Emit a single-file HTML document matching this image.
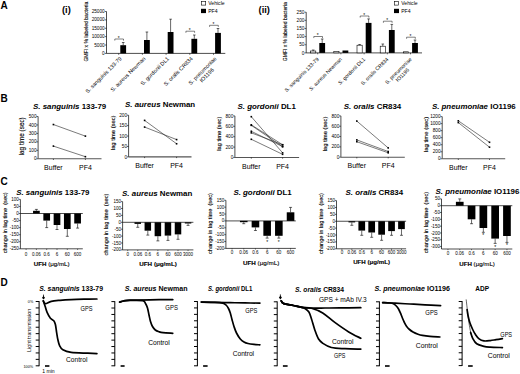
<!DOCTYPE html>
<html><head><meta charset="utf-8"><style>
html,body{margin:0;padding:0;background:#fff;}
svg{display:block;}
text{font-family:"Liberation Sans", sans-serif;}
.yl{stroke:#000;stroke-width:0.12px;}
</style></head><body>
<svg width="520" height="374" viewBox="0 0 520 374" font-family="Liberation Sans, sans-serif">
<rect width="520" height="374" fill="#fff"/>
<text x="0.50" y="9.00" font-size="10" text-anchor="start" font-weight="bold" font-style="normal" fill="#000">A</text>
<text x="0.50" y="101.50" font-size="10" text-anchor="start" font-weight="bold" font-style="normal" fill="#000">B</text>
<text x="0.50" y="185.20" font-size="10" text-anchor="start" font-weight="bold" font-style="normal" fill="#000">C</text>
<text x="0.50" y="285.60" font-size="10" text-anchor="start" font-weight="bold" font-style="normal" fill="#000">D</text>
<text x="62.00" y="12.70" font-size="9.3" text-anchor="start" font-weight="bold" font-style="normal" fill="#000">(i)</text>
<line x1="106.50" y1="11.50" x2="106.50" y2="53.40" stroke="#000" stroke-width="0.7"/>
<line x1="104.90" y1="53.40" x2="106.50" y2="53.40" stroke="#000" stroke-width="0.6"/>
<text x="104.70" y="55.00" font-size="4.7" text-anchor="end" font-weight="normal" font-style="normal" fill="#000">0</text>
<line x1="104.90" y1="45.02" x2="106.50" y2="45.02" stroke="#000" stroke-width="0.6"/>
<text x="104.70" y="46.62" font-size="4.7" text-anchor="end" font-weight="normal" font-style="normal" fill="#000">5000</text>
<line x1="104.90" y1="36.64" x2="106.50" y2="36.64" stroke="#000" stroke-width="0.6"/>
<text x="104.70" y="38.24" font-size="4.7" text-anchor="end" font-weight="normal" font-style="normal" fill="#000">10000</text>
<line x1="104.90" y1="28.26" x2="106.50" y2="28.26" stroke="#000" stroke-width="0.6"/>
<text x="104.70" y="29.86" font-size="4.7" text-anchor="end" font-weight="normal" font-style="normal" fill="#000">15000</text>
<line x1="104.90" y1="19.88" x2="106.50" y2="19.88" stroke="#000" stroke-width="0.6"/>
<text x="104.70" y="21.48" font-size="4.7" text-anchor="end" font-weight="normal" font-style="normal" fill="#000">20000</text>
<line x1="104.90" y1="11.50" x2="106.50" y2="11.50" stroke="#000" stroke-width="0.6"/>
<text x="104.70" y="13.10" font-size="4.7" text-anchor="end" font-weight="normal" font-style="normal" fill="#000">25000</text>
<text x="87.60" y="31.60" font-size="5.1" text-anchor="middle" transform="rotate(-90 87.60 31.60)" textLength="60.00" lengthAdjust="spacingAndGlyphs" class="yl">GMFI x % labeled bacteria</text>
<line x1="106.50" y1="53.40" x2="225.30" y2="53.40" stroke="#000" stroke-width="0.7"/>
<line x1="118.70" y1="53.40" x2="118.70" y2="54.80" stroke="#000" stroke-width="0.6"/>
<line x1="123.20" y1="42.50" x2="123.20" y2="45.20" stroke="#000" stroke-width="0.6"/>
<line x1="121.90" y1="42.50" x2="124.50" y2="42.50" stroke="#000" stroke-width="0.6"/>
<rect x="120.30" y="45.20" width="5.80" height="8.20" fill="#000"/>
<line x1="142.40" y1="53.40" x2="142.40" y2="54.80" stroke="#000" stroke-width="0.6"/>
<line x1="146.90" y1="32.00" x2="146.90" y2="40.00" stroke="#000" stroke-width="0.6"/>
<line x1="145.60" y1="32.00" x2="148.20" y2="32.00" stroke="#000" stroke-width="0.6"/>
<rect x="144.00" y="40.00" width="5.80" height="13.40" fill="#000"/>
<line x1="166.10" y1="53.40" x2="166.10" y2="54.80" stroke="#000" stroke-width="0.6"/>
<line x1="170.60" y1="19.20" x2="170.60" y2="32.00" stroke="#000" stroke-width="0.6"/>
<line x1="169.30" y1="19.20" x2="171.90" y2="19.20" stroke="#000" stroke-width="0.6"/>
<rect x="167.70" y="32.00" width="5.80" height="21.40" fill="#000"/>
<line x1="189.80" y1="53.40" x2="189.80" y2="54.80" stroke="#000" stroke-width="0.6"/>
<line x1="194.30" y1="35.00" x2="194.30" y2="38.80" stroke="#000" stroke-width="0.6"/>
<line x1="193.00" y1="35.00" x2="195.60" y2="35.00" stroke="#000" stroke-width="0.6"/>
<rect x="191.40" y="38.80" width="5.80" height="14.60" fill="#000"/>
<line x1="213.50" y1="53.40" x2="213.50" y2="54.80" stroke="#000" stroke-width="0.6"/>
<line x1="218.00" y1="28.50" x2="218.00" y2="32.90" stroke="#000" stroke-width="0.6"/>
<line x1="216.70" y1="28.50" x2="219.30" y2="28.50" stroke="#000" stroke-width="0.6"/>
<rect x="215.10" y="32.90" width="5.80" height="20.50" fill="#000"/>
<path d="M114.80 40.20 L114.80 39.00 L123.50 39.00 L123.50 40.20" stroke="#000" stroke-width="0.5" fill="none" stroke-linejoin="round" stroke-linecap="round"/>
<text x="118.70" y="39.90" font-size="4.8" text-anchor="middle" font-weight="normal" font-style="normal" fill="#000">*</text>
<path d="M185.90 32.40 L185.90 31.20 L194.60 31.20 L194.60 32.40" stroke="#000" stroke-width="0.5" fill="none" stroke-linejoin="round" stroke-linecap="round"/>
<text x="189.80" y="32.10" font-size="4.8" text-anchor="middle" font-weight="normal" font-style="normal" fill="#000">*</text>
<path d="M209.60 26.50 L209.60 25.30 L218.30 25.30 L218.30 26.50" stroke="#000" stroke-width="0.5" fill="none" stroke-linejoin="round" stroke-linecap="round"/>
<text x="213.50" y="26.20" font-size="4.8" text-anchor="middle" font-weight="normal" font-style="normal" fill="#000">*</text>
<rect x="201.30" y="1.50" width="4.40" height="3.60" fill="#fff" stroke="#000" stroke-width="0.6"/>
<rect x="201.00" y="8.80" width="5.00" height="4.30" fill="#000"/>
<text x="208.20" y="5.10" font-size="5.1" text-anchor="start" font-weight="normal" font-style="normal" fill="#000">Vehicle</text>
<text x="208.20" y="12.90" font-size="5.1" text-anchor="start" font-weight="normal" font-style="normal" fill="#000">PF4</text>
<text x="122.10" y="59.00" font-size="5.5" text-anchor="end" font-weight="normal" font-style="normal" fill="#000" transform="rotate(-45 122.10 59.00)">S. sanguinis 133-79</text>
<text x="145.80" y="59.00" font-size="5.5" text-anchor="end" font-weight="normal" font-style="normal" fill="#000" transform="rotate(-45 145.80 59.00)">S. aureus Newman</text>
<text x="169.50" y="59.00" font-size="5.5" text-anchor="end" font-weight="normal" font-style="normal" fill="#000" transform="rotate(-45 169.50 59.00)">S. gordonii DL1</text>
<text x="193.20" y="59.00" font-size="5.5" text-anchor="end" font-weight="normal" font-style="normal" fill="#000" transform="rotate(-45 193.20 59.00)">S. oralis CR834</text>
<g transform="translate(216.90 59.00) rotate(-45)"><text x="-18.51" y="0" font-size="5.5" text-anchor="middle">S. pneumoniae</text><text x="-18.51" y="6.16" font-size="5.5" text-anchor="middle">IO1196</text></g>
<text x="258.60" y="12.70" font-size="9.3" text-anchor="start" font-weight="bold" font-style="normal" fill="#000">(ii)</text>
<line x1="306.20" y1="12.20" x2="306.20" y2="52.90" stroke="#000" stroke-width="0.7"/>
<line x1="304.60" y1="52.90" x2="306.20" y2="52.90" stroke="#000" stroke-width="0.6"/>
<text x="304.40" y="54.50" font-size="4.7" text-anchor="end" font-weight="normal" font-style="normal" fill="#000">0</text>
<line x1="304.60" y1="44.76" x2="306.20" y2="44.76" stroke="#000" stroke-width="0.6"/>
<text x="304.40" y="46.36" font-size="4.7" text-anchor="end" font-weight="normal" font-style="normal" fill="#000">50</text>
<line x1="304.60" y1="36.62" x2="306.20" y2="36.62" stroke="#000" stroke-width="0.6"/>
<text x="304.40" y="38.22" font-size="4.7" text-anchor="end" font-weight="normal" font-style="normal" fill="#000">100</text>
<line x1="304.60" y1="28.48" x2="306.20" y2="28.48" stroke="#000" stroke-width="0.6"/>
<text x="304.40" y="30.08" font-size="4.7" text-anchor="end" font-weight="normal" font-style="normal" fill="#000">150</text>
<line x1="304.60" y1="20.34" x2="306.20" y2="20.34" stroke="#000" stroke-width="0.6"/>
<text x="304.40" y="21.94" font-size="4.7" text-anchor="end" font-weight="normal" font-style="normal" fill="#000">200</text>
<line x1="304.60" y1="12.20" x2="306.20" y2="12.20" stroke="#000" stroke-width="0.6"/>
<text x="304.40" y="13.80" font-size="4.7" text-anchor="end" font-weight="normal" font-style="normal" fill="#000">250</text>
<text x="287.40" y="31.70" font-size="5.1" text-anchor="middle" transform="rotate(-90 287.40 31.70)" textLength="59.00" lengthAdjust="spacingAndGlyphs" class="yl">GMFI x % labeled bacteria</text>
<line x1="306.20" y1="52.90" x2="422.00" y2="52.90" stroke="#000" stroke-width="0.7"/>
<line x1="317.70" y1="52.90" x2="317.70" y2="54.30" stroke="#000" stroke-width="0.6"/>
<line x1="313.20" y1="50.00" x2="313.20" y2="51.00" stroke="#000" stroke-width="0.6"/>
<line x1="311.90" y1="50.00" x2="314.50" y2="50.00" stroke="#000" stroke-width="0.6"/>
<rect x="310.60" y="51.00" width="5.20" height="1.90" fill="#fff" stroke="#000" stroke-width="0.6"/>
<line x1="322.20" y1="39.00" x2="322.20" y2="43.00" stroke="#000" stroke-width="0.6"/>
<line x1="320.90" y1="39.00" x2="323.50" y2="39.00" stroke="#000" stroke-width="0.6"/>
<rect x="319.30" y="43.00" width="5.80" height="9.90" fill="#000"/>
<line x1="340.90" y1="52.90" x2="340.90" y2="54.30" stroke="#000" stroke-width="0.6"/>
<rect x="333.80" y="51.30" width="5.20" height="1.60" fill="#fff" stroke="#000" stroke-width="0.6"/>
<rect x="342.50" y="50.50" width="5.80" height="2.40" fill="#000"/>
<line x1="364.10" y1="52.90" x2="364.10" y2="54.30" stroke="#000" stroke-width="0.6"/>
<line x1="359.60" y1="44.50" x2="359.60" y2="45.20" stroke="#000" stroke-width="0.6"/>
<line x1="358.30" y1="44.50" x2="360.90" y2="44.50" stroke="#000" stroke-width="0.6"/>
<rect x="357.00" y="45.20" width="5.20" height="7.70" fill="#fff" stroke="#000" stroke-width="0.6"/>
<line x1="368.60" y1="18.90" x2="368.60" y2="22.90" stroke="#000" stroke-width="0.6"/>
<line x1="367.30" y1="18.90" x2="369.90" y2="18.90" stroke="#000" stroke-width="0.6"/>
<rect x="365.70" y="22.90" width="5.80" height="30.00" fill="#000"/>
<line x1="387.30" y1="52.90" x2="387.30" y2="54.30" stroke="#000" stroke-width="0.6"/>
<line x1="382.80" y1="44.00" x2="382.80" y2="46.20" stroke="#000" stroke-width="0.6"/>
<line x1="381.50" y1="44.00" x2="384.10" y2="44.00" stroke="#000" stroke-width="0.6"/>
<rect x="380.20" y="46.20" width="5.20" height="6.70" fill="#fff" stroke="#000" stroke-width="0.6"/>
<line x1="391.80" y1="24.40" x2="391.80" y2="30.00" stroke="#000" stroke-width="0.6"/>
<line x1="390.50" y1="24.40" x2="393.10" y2="24.40" stroke="#000" stroke-width="0.6"/>
<rect x="388.90" y="30.00" width="5.80" height="22.90" fill="#000"/>
<line x1="410.50" y1="52.90" x2="410.50" y2="54.30" stroke="#000" stroke-width="0.6"/>
<rect x="403.40" y="51.80" width="5.20" height="1.10" fill="#fff" stroke="#000" stroke-width="0.6"/>
<line x1="415.00" y1="40.00" x2="415.00" y2="43.00" stroke="#000" stroke-width="0.6"/>
<line x1="413.70" y1="40.00" x2="416.30" y2="40.00" stroke="#000" stroke-width="0.6"/>
<rect x="412.10" y="43.00" width="5.80" height="9.90" fill="#000"/>
<path d="M313.80 37.70 L313.80 36.50 L322.50 36.50 L322.50 37.70" stroke="#000" stroke-width="0.5" fill="none" stroke-linejoin="round" stroke-linecap="round"/>
<text x="317.70" y="37.40" font-size="4.8" text-anchor="middle" font-weight="normal" font-style="normal" fill="#000">*</text>
<path d="M360.20 17.20 L360.20 16.00 L368.90 16.00 L368.90 17.20" stroke="#000" stroke-width="0.5" fill="none" stroke-linejoin="round" stroke-linecap="round"/>
<text x="364.10" y="16.90" font-size="4.8" text-anchor="middle" font-weight="normal" font-style="normal" fill="#000">*</text>
<path d="M383.40 22.40 L383.40 21.20 L392.10 21.20 L392.10 22.40" stroke="#000" stroke-width="0.5" fill="none" stroke-linejoin="round" stroke-linecap="round"/>
<text x="387.30" y="22.10" font-size="4.8" text-anchor="middle" font-weight="normal" font-style="normal" fill="#000">*</text>
<path d="M406.60 38.40 L406.60 37.20 L415.30 37.20 L415.30 38.40" stroke="#000" stroke-width="0.5" fill="none" stroke-linejoin="round" stroke-linecap="round"/>
<text x="410.50" y="38.10" font-size="4.8" text-anchor="middle" font-weight="normal" font-style="normal" fill="#000">*</text>
<rect x="394.30" y="1.50" width="4.40" height="3.60" fill="#fff" stroke="#000" stroke-width="0.6"/>
<rect x="394.00" y="8.80" width="5.00" height="4.30" fill="#000"/>
<text x="401.20" y="5.10" font-size="5.1" text-anchor="start" font-weight="normal" font-style="normal" fill="#000">Vehicle</text>
<text x="401.20" y="12.90" font-size="5.1" text-anchor="start" font-weight="normal" font-style="normal" fill="#000">PF4</text>
<text x="319.20" y="59.70" font-size="5.2" text-anchor="end" font-weight="normal" font-style="normal" fill="#000" transform="rotate(-45 319.20 59.70)">S. sanguinis 133-79</text>
<text x="342.40" y="59.70" font-size="5.2" text-anchor="end" font-weight="normal" font-style="normal" fill="#000" transform="rotate(-45 342.40 59.70)">S. aureus Newman</text>
<text x="365.60" y="59.70" font-size="5.2" text-anchor="end" font-weight="normal" font-style="normal" fill="#000" transform="rotate(-45 365.60 59.70)">S. gordonii DL1</text>
<text x="388.80" y="59.70" font-size="5.2" text-anchor="end" font-weight="normal" font-style="normal" fill="#000" transform="rotate(-45 388.80 59.70)">S. oralis CR834</text>
<g transform="translate(412.00 59.70) rotate(-45)"><text x="-17.50" y="0" font-size="5.2" text-anchor="middle">S. pneumoniae</text><text x="-17.50" y="5.82" font-size="5.2" text-anchor="middle">IO1196</text></g>
<text x="33.00" y="109.20" font-size="7.9" font-weight="bold"><tspan font-style="italic">S. sanguinis</tspan> 133-79</text>
<line x1="38.10" y1="116.50" x2="38.10" y2="158.80" stroke="#000" stroke-width="0.7"/>
<line x1="36.50" y1="158.80" x2="38.10" y2="158.80" stroke="#000" stroke-width="0.6"/>
<text x="36.50" y="160.40" font-size="4.7" text-anchor="end" font-weight="normal" font-style="normal" fill="#000">0</text>
<line x1="36.50" y1="150.34" x2="38.10" y2="150.34" stroke="#000" stroke-width="0.6"/>
<text x="36.50" y="151.94" font-size="4.7" text-anchor="end" font-weight="normal" font-style="normal" fill="#000">100</text>
<line x1="36.50" y1="141.88" x2="38.10" y2="141.88" stroke="#000" stroke-width="0.6"/>
<text x="36.50" y="143.48" font-size="4.7" text-anchor="end" font-weight="normal" font-style="normal" fill="#000">200</text>
<line x1="36.50" y1="133.42" x2="38.10" y2="133.42" stroke="#000" stroke-width="0.6"/>
<text x="36.50" y="135.02" font-size="4.7" text-anchor="end" font-weight="normal" font-style="normal" fill="#000">300</text>
<line x1="36.50" y1="124.96" x2="38.10" y2="124.96" stroke="#000" stroke-width="0.6"/>
<text x="36.50" y="126.56" font-size="4.7" text-anchor="end" font-weight="normal" font-style="normal" fill="#000">400</text>
<line x1="36.50" y1="116.50" x2="38.10" y2="116.50" stroke="#000" stroke-width="0.6"/>
<text x="36.50" y="118.10" font-size="4.7" text-anchor="end" font-weight="normal" font-style="normal" fill="#000">500</text>
<line x1="38.10" y1="158.80" x2="101.50" y2="158.80" stroke="#555" stroke-width="1.1"/>
<line x1="53.40" y1="158.80" x2="53.40" y2="160.00" stroke="#000" stroke-width="0.6"/>
<line x1="85.40" y1="158.80" x2="85.40" y2="160.00" stroke="#000" stroke-width="0.6"/>
<text x="53.40" y="169.70" font-size="7.0" text-anchor="middle" font-weight="normal" font-style="normal" fill="#000">Buffer</text>
<text x="85.40" y="169.70" font-size="7.0" text-anchor="middle" font-weight="normal" font-style="normal" fill="#000">PF4</text>
<text x="23.71" y="136.30" font-size="6.33" text-anchor="middle" transform="rotate(-90 23.71 136.30)" textLength="38.00" lengthAdjust="spacingAndGlyphs" class="yl">lag time (sec)</text>
<line x1="53.40" y1="124.54" x2="85.40" y2="136.13" stroke="#222" stroke-width="0.6"/>
<rect x="52.60" y="123.74" width="1.60" height="1.60" fill="#000"/>
<rect x="84.60" y="135.33" width="1.60" height="1.60" fill="#000"/>
<line x1="53.40" y1="146.11" x2="85.40" y2="156.69" stroke="#222" stroke-width="0.6"/>
<rect x="52.60" y="145.31" width="1.60" height="1.60" fill="#000"/>
<rect x="84.60" y="155.88" width="1.60" height="1.60" fill="#000"/>
<text x="125.00" y="107.20" font-size="7.9" font-weight="bold"><tspan font-style="italic">S. aureus</tspan> Newman</text>
<line x1="128.60" y1="115.20" x2="128.60" y2="156.90" stroke="#000" stroke-width="0.7"/>
<line x1="127.00" y1="156.90" x2="128.60" y2="156.90" stroke="#000" stroke-width="0.6"/>
<text x="127.00" y="158.50" font-size="4.7" text-anchor="end" font-weight="normal" font-style="normal" fill="#000">0</text>
<line x1="127.00" y1="146.47" x2="128.60" y2="146.47" stroke="#000" stroke-width="0.6"/>
<text x="127.00" y="148.07" font-size="4.7" text-anchor="end" font-weight="normal" font-style="normal" fill="#000">50</text>
<line x1="127.00" y1="136.05" x2="128.60" y2="136.05" stroke="#000" stroke-width="0.6"/>
<text x="127.00" y="137.65" font-size="4.7" text-anchor="end" font-weight="normal" font-style="normal" fill="#000">100</text>
<line x1="127.00" y1="125.62" x2="128.60" y2="125.62" stroke="#000" stroke-width="0.6"/>
<text x="127.00" y="127.22" font-size="4.7" text-anchor="end" font-weight="normal" font-style="normal" fill="#000">150</text>
<line x1="127.00" y1="115.20" x2="128.60" y2="115.20" stroke="#000" stroke-width="0.6"/>
<text x="127.00" y="116.80" font-size="4.7" text-anchor="end" font-weight="normal" font-style="normal" fill="#000">200</text>
<line x1="128.60" y1="156.90" x2="191.50" y2="156.90" stroke="#555" stroke-width="1.1"/>
<line x1="144.60" y1="156.90" x2="144.60" y2="158.10" stroke="#000" stroke-width="0.6"/>
<line x1="176.60" y1="156.90" x2="176.60" y2="158.10" stroke="#000" stroke-width="0.6"/>
<text x="144.60" y="167.70" font-size="7.0" text-anchor="middle" font-weight="normal" font-style="normal" fill="#000">Buffer</text>
<text x="176.60" y="167.70" font-size="7.0" text-anchor="middle" font-weight="normal" font-style="normal" fill="#000">PF4</text>
<text x="114.56" y="132.80" font-size="5.78" text-anchor="middle" transform="rotate(-90 114.56 132.80)" textLength="34.70" lengthAdjust="spacingAndGlyphs" class="yl">lag time (sec)</text>
<line x1="144.60" y1="120.41" x2="176.60" y2="143.76" stroke="#222" stroke-width="0.6"/>
<rect x="143.80" y="119.61" width="1.60" height="1.60" fill="#000"/>
<rect x="175.80" y="142.96" width="1.60" height="1.60" fill="#000"/>
<line x1="144.60" y1="127.08" x2="176.60" y2="139.59" stroke="#222" stroke-width="0.6"/>
<rect x="143.80" y="126.28" width="1.60" height="1.60" fill="#000"/>
<rect x="175.80" y="138.79" width="1.60" height="1.60" fill="#000"/>
<text x="237.50" y="108.80" font-size="7.9" font-weight="bold"><tspan font-style="italic">S. gordonii</tspan> DL1</text>
<line x1="234.90" y1="115.90" x2="234.90" y2="157.50" stroke="#000" stroke-width="0.7"/>
<line x1="233.30" y1="157.50" x2="234.90" y2="157.50" stroke="#000" stroke-width="0.6"/>
<text x="233.30" y="159.10" font-size="4.7" text-anchor="end" font-weight="normal" font-style="normal" fill="#000">0</text>
<line x1="233.30" y1="147.10" x2="234.90" y2="147.10" stroke="#000" stroke-width="0.6"/>
<text x="233.30" y="148.70" font-size="4.7" text-anchor="end" font-weight="normal" font-style="normal" fill="#000">200</text>
<line x1="233.30" y1="136.70" x2="234.90" y2="136.70" stroke="#000" stroke-width="0.6"/>
<text x="233.30" y="138.30" font-size="4.7" text-anchor="end" font-weight="normal" font-style="normal" fill="#000">400</text>
<line x1="233.30" y1="126.30" x2="234.90" y2="126.30" stroke="#000" stroke-width="0.6"/>
<text x="233.30" y="127.90" font-size="4.7" text-anchor="end" font-weight="normal" font-style="normal" fill="#000">600</text>
<line x1="233.30" y1="115.90" x2="234.90" y2="115.90" stroke="#000" stroke-width="0.6"/>
<text x="233.30" y="117.50" font-size="4.7" text-anchor="end" font-weight="normal" font-style="normal" fill="#000">800</text>
<line x1="234.90" y1="157.50" x2="299.10" y2="157.50" stroke="#555" stroke-width="1.1"/>
<line x1="251.30" y1="157.50" x2="251.30" y2="158.70" stroke="#000" stroke-width="0.6"/>
<line x1="282.60" y1="157.50" x2="282.60" y2="158.70" stroke="#000" stroke-width="0.6"/>
<text x="251.30" y="168.50" font-size="7.0" text-anchor="middle" font-weight="normal" font-style="normal" fill="#000">Buffer</text>
<text x="282.60" y="168.50" font-size="7.0" text-anchor="middle" font-weight="normal" font-style="normal" fill="#000">PF4</text>
<text x="220.83" y="133.70" font-size="5.68" text-anchor="middle" transform="rotate(-90 220.83 133.70)" textLength="34.10" lengthAdjust="spacingAndGlyphs" class="yl">lag time (sec)</text>
<line x1="251.30" y1="116.68" x2="282.60" y2="152.82" stroke="#222" stroke-width="0.6"/>
<rect x="250.50" y="115.88" width="1.60" height="1.60" fill="#000"/>
<rect x="281.80" y="152.02" width="1.60" height="1.60" fill="#000"/>
<line x1="251.30" y1="124.84" x2="282.60" y2="144.76" stroke="#222" stroke-width="0.6"/>
<rect x="250.50" y="124.04" width="1.60" height="1.60" fill="#000"/>
<rect x="281.80" y="143.96" width="1.60" height="1.60" fill="#000"/>
<line x1="251.30" y1="125.36" x2="282.60" y2="146.63" stroke="#222" stroke-width="0.6"/>
<rect x="250.50" y="124.56" width="1.60" height="1.60" fill="#000"/>
<rect x="281.80" y="145.83" width="1.60" height="1.60" fill="#000"/>
<line x1="251.30" y1="131.29" x2="282.60" y2="146.63" stroke="#222" stroke-width="0.6"/>
<rect x="250.50" y="130.49" width="1.60" height="1.60" fill="#000"/>
<rect x="281.80" y="145.83" width="1.60" height="1.60" fill="#000"/>
<line x1="251.30" y1="132.85" x2="282.60" y2="144.76" stroke="#222" stroke-width="0.6"/>
<rect x="250.50" y="132.05" width="1.60" height="1.60" fill="#000"/>
<rect x="281.80" y="143.96" width="1.60" height="1.60" fill="#000"/>
<line x1="251.30" y1="139.30" x2="282.60" y2="154.33" stroke="#222" stroke-width="0.6"/>
<rect x="250.50" y="138.50" width="1.60" height="1.60" fill="#000"/>
<rect x="281.80" y="153.53" width="1.60" height="1.60" fill="#000"/>
<text x="343.80" y="108.50" font-size="7.9" font-weight="bold"><tspan font-style="italic">S. oralis</tspan> CR834</text>
<line x1="340.90" y1="115.90" x2="340.90" y2="157.20" stroke="#000" stroke-width="0.7"/>
<line x1="339.30" y1="157.20" x2="340.90" y2="157.20" stroke="#000" stroke-width="0.6"/>
<text x="339.30" y="158.80" font-size="4.7" text-anchor="end" font-weight="normal" font-style="normal" fill="#000">0</text>
<line x1="339.30" y1="146.88" x2="340.90" y2="146.88" stroke="#000" stroke-width="0.6"/>
<text x="339.30" y="148.47" font-size="4.7" text-anchor="end" font-weight="normal" font-style="normal" fill="#000">200</text>
<line x1="339.30" y1="136.55" x2="340.90" y2="136.55" stroke="#000" stroke-width="0.6"/>
<text x="339.30" y="138.15" font-size="4.7" text-anchor="end" font-weight="normal" font-style="normal" fill="#000">400</text>
<line x1="339.30" y1="126.22" x2="340.90" y2="126.22" stroke="#000" stroke-width="0.6"/>
<text x="339.30" y="127.82" font-size="4.7" text-anchor="end" font-weight="normal" font-style="normal" fill="#000">600</text>
<line x1="339.30" y1="115.90" x2="340.90" y2="115.90" stroke="#000" stroke-width="0.6"/>
<text x="339.30" y="117.50" font-size="4.7" text-anchor="end" font-weight="normal" font-style="normal" fill="#000">800</text>
<line x1="340.90" y1="157.20" x2="404.80" y2="157.20" stroke="#555" stroke-width="1.1"/>
<line x1="356.80" y1="157.20" x2="356.80" y2="158.40" stroke="#000" stroke-width="0.6"/>
<line x1="388.20" y1="157.20" x2="388.20" y2="158.40" stroke="#000" stroke-width="0.6"/>
<text x="356.80" y="168.00" font-size="7.0" text-anchor="middle" font-weight="normal" font-style="normal" fill="#000">Buffer</text>
<text x="388.20" y="168.00" font-size="7.0" text-anchor="middle" font-weight="normal" font-style="normal" fill="#000">PF4</text>
<text x="326.66" y="134.00" font-size="5.78" text-anchor="middle" transform="rotate(-90 326.66 134.00)" textLength="34.70" lengthAdjust="spacingAndGlyphs" class="yl">lag time (sec)</text>
<line x1="356.80" y1="121.06" x2="388.20" y2="147.91" stroke="#222" stroke-width="0.6"/>
<rect x="356.00" y="120.26" width="1.60" height="1.60" fill="#000"/>
<rect x="387.40" y="147.11" width="1.60" height="1.60" fill="#000"/>
<line x1="356.80" y1="139.91" x2="388.20" y2="151.52" stroke="#222" stroke-width="0.6"/>
<rect x="356.00" y="139.11" width="1.60" height="1.60" fill="#000"/>
<rect x="387.40" y="150.72" width="1.60" height="1.60" fill="#000"/>
<line x1="356.80" y1="141.71" x2="388.20" y2="152.81" stroke="#222" stroke-width="0.6"/>
<rect x="356.00" y="140.91" width="1.60" height="1.60" fill="#000"/>
<rect x="387.40" y="152.01" width="1.60" height="1.60" fill="#000"/>
<text x="431.90" y="109.20" font-size="7.9" font-weight="bold"><tspan font-style="italic">S. pneumoniae</tspan> IO1196</text>
<line x1="442.20" y1="116.60" x2="442.20" y2="158.80" stroke="#000" stroke-width="0.7"/>
<line x1="440.60" y1="158.80" x2="442.20" y2="158.80" stroke="#000" stroke-width="0.6"/>
<text x="440.60" y="160.40" font-size="4.7" text-anchor="end" font-weight="normal" font-style="normal" fill="#000">0</text>
<line x1="440.60" y1="151.77" x2="442.20" y2="151.77" stroke="#000" stroke-width="0.6"/>
<text x="440.60" y="153.37" font-size="4.7" text-anchor="end" font-weight="normal" font-style="normal" fill="#000">200</text>
<line x1="440.60" y1="144.73" x2="442.20" y2="144.73" stroke="#000" stroke-width="0.6"/>
<text x="440.60" y="146.33" font-size="4.7" text-anchor="end" font-weight="normal" font-style="normal" fill="#000">400</text>
<line x1="440.60" y1="137.70" x2="442.20" y2="137.70" stroke="#000" stroke-width="0.6"/>
<text x="440.60" y="139.30" font-size="4.7" text-anchor="end" font-weight="normal" font-style="normal" fill="#000">600</text>
<line x1="440.60" y1="130.67" x2="442.20" y2="130.67" stroke="#000" stroke-width="0.6"/>
<text x="440.60" y="132.27" font-size="4.7" text-anchor="end" font-weight="normal" font-style="normal" fill="#000">800</text>
<line x1="440.60" y1="123.63" x2="442.20" y2="123.63" stroke="#000" stroke-width="0.6"/>
<text x="440.60" y="125.23" font-size="4.7" text-anchor="end" font-weight="normal" font-style="normal" fill="#000">1000</text>
<line x1="440.60" y1="116.60" x2="442.20" y2="116.60" stroke="#000" stroke-width="0.6"/>
<text x="440.60" y="118.20" font-size="4.7" text-anchor="end" font-weight="normal" font-style="normal" fill="#000">1200</text>
<line x1="442.20" y1="158.80" x2="505.20" y2="158.80" stroke="#555" stroke-width="1.1"/>
<line x1="458.30" y1="158.80" x2="458.30" y2="160.00" stroke="#000" stroke-width="0.6"/>
<line x1="489.50" y1="158.80" x2="489.50" y2="160.00" stroke="#000" stroke-width="0.6"/>
<text x="458.30" y="169.70" font-size="7.0" text-anchor="middle" font-weight="normal" font-style="normal" fill="#000">Buffer</text>
<text x="489.50" y="169.70" font-size="7.0" text-anchor="middle" font-weight="normal" font-style="normal" fill="#000">PF4</text>
<text x="428.29" y="134.40" font-size="5.90" text-anchor="middle" transform="rotate(-90 428.29 134.40)" textLength="35.40" lengthAdjust="spacingAndGlyphs" class="yl">lag time (sec)</text>
<line x1="458.30" y1="120.82" x2="489.50" y2="142.27" stroke="#222" stroke-width="0.6"/>
<rect x="457.50" y="120.02" width="1.60" height="1.60" fill="#000"/>
<rect x="488.70" y="141.47" width="1.60" height="1.60" fill="#000"/>
<line x1="458.30" y1="122.58" x2="489.50" y2="147.19" stroke="#222" stroke-width="0.6"/>
<rect x="457.50" y="121.78" width="1.60" height="1.60" fill="#000"/>
<rect x="488.70" y="146.39" width="1.60" height="1.60" fill="#000"/>
<text x="16.20" y="195.40" font-size="7.9" font-weight="bold"><tspan font-style="italic">S. sanguinis</tspan> 133-79</text>
<line x1="20.40" y1="199.40" x2="20.40" y2="248.80" stroke="#000" stroke-width="0.7"/>
<line x1="18.80" y1="199.40" x2="20.40" y2="199.40" stroke="#000" stroke-width="0.6"/>
<text x="18.80" y="200.95" font-size="4.5" text-anchor="end" font-weight="normal" font-style="normal" fill="#000">100</text>
<line x1="18.80" y1="206.46" x2="20.40" y2="206.46" stroke="#000" stroke-width="0.6"/>
<text x="18.80" y="208.01" font-size="4.5" text-anchor="end" font-weight="normal" font-style="normal" fill="#000">50</text>
<line x1="18.80" y1="213.51" x2="20.40" y2="213.51" stroke="#000" stroke-width="0.6"/>
<text x="18.80" y="215.06" font-size="4.5" text-anchor="end" font-weight="normal" font-style="normal" fill="#000">0</text>
<line x1="18.80" y1="220.57" x2="20.40" y2="220.57" stroke="#000" stroke-width="0.6"/>
<text x="18.80" y="222.12" font-size="4.5" text-anchor="end" font-weight="normal" font-style="normal" fill="#000">-50</text>
<line x1="18.80" y1="227.63" x2="20.40" y2="227.63" stroke="#000" stroke-width="0.6"/>
<text x="18.80" y="229.18" font-size="4.5" text-anchor="end" font-weight="normal" font-style="normal" fill="#000">-100</text>
<line x1="18.80" y1="234.69" x2="20.40" y2="234.69" stroke="#000" stroke-width="0.6"/>
<text x="18.80" y="236.24" font-size="4.5" text-anchor="end" font-weight="normal" font-style="normal" fill="#000">-150</text>
<line x1="18.80" y1="241.74" x2="20.40" y2="241.74" stroke="#000" stroke-width="0.6"/>
<text x="18.80" y="243.29" font-size="4.5" text-anchor="end" font-weight="normal" font-style="normal" fill="#000">-200</text>
<line x1="18.80" y1="248.80" x2="20.40" y2="248.80" stroke="#000" stroke-width="0.6"/>
<text x="18.80" y="250.35" font-size="4.5" text-anchor="end" font-weight="normal" font-style="normal" fill="#000">-250</text>
<line x1="20.40" y1="248.80" x2="82.80" y2="248.80" stroke="#000" stroke-width="0.7"/>
<line x1="20.40" y1="213.51" x2="82.80" y2="213.51" stroke="#000" stroke-width="0.7"/>
<line x1="26.10" y1="248.80" x2="26.10" y2="250.00" stroke="#000" stroke-width="0.5"/>
<text x="26.10" y="255.50" font-size="4.5" text-anchor="middle" font-weight="normal" font-style="normal" fill="#000">0</text>
<line x1="36.40" y1="248.80" x2="36.40" y2="250.00" stroke="#000" stroke-width="0.5"/>
<text x="36.40" y="255.50" font-size="4.5" text-anchor="middle" font-weight="normal" font-style="normal" fill="#000">0.06</text>
<line x1="46.70" y1="248.80" x2="46.70" y2="250.00" stroke="#000" stroke-width="0.5"/>
<text x="46.70" y="255.50" font-size="4.5" text-anchor="middle" font-weight="normal" font-style="normal" fill="#000">0.6</text>
<line x1="57.00" y1="248.80" x2="57.00" y2="250.00" stroke="#000" stroke-width="0.5"/>
<text x="57.00" y="255.50" font-size="4.5" text-anchor="middle" font-weight="normal" font-style="normal" fill="#000">6</text>
<line x1="67.30" y1="248.80" x2="67.30" y2="250.00" stroke="#000" stroke-width="0.5"/>
<text x="67.30" y="255.50" font-size="4.5" text-anchor="middle" font-weight="normal" font-style="normal" fill="#000">60</text>
<line x1="77.60" y1="248.80" x2="77.60" y2="250.00" stroke="#000" stroke-width="0.5"/>
<text x="77.60" y="255.50" font-size="4.5" text-anchor="middle" font-weight="normal" font-style="normal" fill="#000">600</text>
<line x1="36.40" y1="210.80" x2="36.40" y2="209.40" stroke="#000" stroke-width="0.6"/>
<line x1="34.90" y1="209.40" x2="37.90" y2="209.40" stroke="#000" stroke-width="0.6"/>
<rect x="33.05" y="210.80" width="6.70" height="2.71" fill="#000"/>
<line x1="46.70" y1="220.60" x2="46.70" y2="227.60" stroke="#000" stroke-width="0.6"/>
<line x1="45.20" y1="227.60" x2="48.20" y2="227.60" stroke="#000" stroke-width="0.6"/>
<rect x="43.35" y="213.51" width="6.70" height="7.09" fill="#000"/>
<line x1="57.00" y1="225.00" x2="57.00" y2="229.50" stroke="#000" stroke-width="0.6"/>
<line x1="55.50" y1="229.50" x2="58.50" y2="229.50" stroke="#000" stroke-width="0.6"/>
<rect x="53.65" y="213.51" width="6.70" height="11.49" fill="#000"/>
<line x1="67.30" y1="229.00" x2="67.30" y2="236.30" stroke="#000" stroke-width="0.6"/>
<line x1="65.80" y1="236.30" x2="68.80" y2="236.30" stroke="#000" stroke-width="0.6"/>
<rect x="63.95" y="213.51" width="6.70" height="15.49" fill="#000"/>
<line x1="77.60" y1="223.50" x2="77.60" y2="228.10" stroke="#000" stroke-width="0.6"/>
<line x1="76.10" y1="228.10" x2="79.10" y2="228.10" stroke="#000" stroke-width="0.6"/>
<rect x="74.25" y="213.51" width="6.70" height="9.99" fill="#000"/>
<text x="33.80" y="265.80" font-size="6.17" textLength="35.80" lengthAdjust="spacingAndGlyphs" class="yl"><tspan font-weight="bold">UFH</tspan><tspan font-weight="normal"> (μg/mL)</tspan></text>
<text x="7.10" y="222.80" font-size="5.60" text-anchor="middle" transform="rotate(-90 7.10 222.80)" textLength="61.00" lengthAdjust="spacingAndGlyphs" xml:space="preserve" class="yl">change in lag time  (sec)</text>
<text x="122.10" y="195.60" font-size="7.9" font-weight="bold"><tspan font-style="italic">S. aureus</tspan> Newman</text>
<line x1="122.60" y1="201.60" x2="122.60" y2="249.90" stroke="#000" stroke-width="0.7"/>
<line x1="121.00" y1="201.60" x2="122.60" y2="201.60" stroke="#000" stroke-width="0.6"/>
<text x="121.00" y="203.15" font-size="4.5" text-anchor="end" font-weight="normal" font-style="normal" fill="#000">150</text>
<line x1="121.00" y1="208.50" x2="122.60" y2="208.50" stroke="#000" stroke-width="0.6"/>
<text x="121.00" y="210.05" font-size="4.5" text-anchor="end" font-weight="normal" font-style="normal" fill="#000">100</text>
<line x1="121.00" y1="215.40" x2="122.60" y2="215.40" stroke="#000" stroke-width="0.6"/>
<text x="121.00" y="216.95" font-size="4.5" text-anchor="end" font-weight="normal" font-style="normal" fill="#000">50</text>
<line x1="121.00" y1="222.30" x2="122.60" y2="222.30" stroke="#000" stroke-width="0.6"/>
<text x="121.00" y="223.85" font-size="4.5" text-anchor="end" font-weight="normal" font-style="normal" fill="#000">0</text>
<line x1="121.00" y1="229.20" x2="122.60" y2="229.20" stroke="#000" stroke-width="0.6"/>
<text x="121.00" y="230.75" font-size="4.5" text-anchor="end" font-weight="normal" font-style="normal" fill="#000">-50</text>
<line x1="121.00" y1="236.10" x2="122.60" y2="236.10" stroke="#000" stroke-width="0.6"/>
<text x="121.00" y="237.65" font-size="4.5" text-anchor="end" font-weight="normal" font-style="normal" fill="#000">-100</text>
<line x1="121.00" y1="243.00" x2="122.60" y2="243.00" stroke="#000" stroke-width="0.6"/>
<text x="121.00" y="244.55" font-size="4.5" text-anchor="end" font-weight="normal" font-style="normal" fill="#000">-150</text>
<line x1="121.00" y1="249.90" x2="122.60" y2="249.90" stroke="#000" stroke-width="0.6"/>
<text x="121.00" y="251.45" font-size="4.5" text-anchor="end" font-weight="normal" font-style="normal" fill="#000">-200</text>
<line x1="122.60" y1="249.90" x2="193.40" y2="249.90" stroke="#000" stroke-width="0.7"/>
<line x1="122.60" y1="222.30" x2="193.40" y2="222.30" stroke="#000" stroke-width="0.7"/>
<line x1="127.70" y1="249.90" x2="127.70" y2="251.10" stroke="#000" stroke-width="0.5"/>
<text x="127.70" y="256.30" font-size="4.5" text-anchor="middle" font-weight="normal" font-style="normal" fill="#000">0</text>
<line x1="137.76" y1="249.90" x2="137.76" y2="251.10" stroke="#000" stroke-width="0.5"/>
<text x="137.76" y="256.30" font-size="4.5" text-anchor="middle" font-weight="normal" font-style="normal" fill="#000">0.06</text>
<line x1="147.82" y1="249.90" x2="147.82" y2="251.10" stroke="#000" stroke-width="0.5"/>
<text x="147.82" y="256.30" font-size="4.5" text-anchor="middle" font-weight="normal" font-style="normal" fill="#000">0.6</text>
<line x1="157.88" y1="249.90" x2="157.88" y2="251.10" stroke="#000" stroke-width="0.5"/>
<text x="157.88" y="256.30" font-size="4.5" text-anchor="middle" font-weight="normal" font-style="normal" fill="#000">6</text>
<line x1="167.94" y1="249.90" x2="167.94" y2="251.10" stroke="#000" stroke-width="0.5"/>
<text x="167.94" y="256.30" font-size="4.5" text-anchor="middle" font-weight="normal" font-style="normal" fill="#000">60</text>
<line x1="178.00" y1="249.90" x2="178.00" y2="251.10" stroke="#000" stroke-width="0.5"/>
<text x="178.00" y="256.30" font-size="4.5" text-anchor="middle" font-weight="normal" font-style="normal" fill="#000">600</text>
<line x1="188.06" y1="249.90" x2="188.06" y2="251.10" stroke="#000" stroke-width="0.5"/>
<text x="188.06" y="256.30" font-size="4.5" text-anchor="middle" font-weight="normal" font-style="normal" fill="#000">3000</text>
<line x1="137.76" y1="223.90" x2="137.76" y2="227.30" stroke="#000" stroke-width="0.6"/>
<line x1="136.26" y1="227.30" x2="139.26" y2="227.30" stroke="#000" stroke-width="0.6"/>
<rect x="134.51" y="222.30" width="6.50" height="1.60" fill="#000"/>
<line x1="147.82" y1="230.70" x2="147.82" y2="235.10" stroke="#000" stroke-width="0.6"/>
<line x1="146.32" y1="235.10" x2="149.32" y2="235.10" stroke="#000" stroke-width="0.6"/>
<rect x="144.57" y="222.30" width="6.50" height="8.40" fill="#000"/>
<line x1="157.88" y1="236.20" x2="157.88" y2="240.90" stroke="#000" stroke-width="0.6"/>
<line x1="156.38" y1="240.90" x2="159.38" y2="240.90" stroke="#000" stroke-width="0.6"/>
<rect x="154.63" y="222.30" width="6.50" height="13.90" fill="#000"/>
<line x1="167.94" y1="235.60" x2="167.94" y2="240.40" stroke="#000" stroke-width="0.6"/>
<line x1="166.44" y1="240.40" x2="169.44" y2="240.40" stroke="#000" stroke-width="0.6"/>
<rect x="164.69" y="222.30" width="6.50" height="13.30" fill="#000"/>
<line x1="178.00" y1="234.40" x2="178.00" y2="239.30" stroke="#000" stroke-width="0.6"/>
<line x1="176.50" y1="239.30" x2="179.50" y2="239.30" stroke="#000" stroke-width="0.6"/>
<rect x="174.75" y="222.30" width="6.50" height="12.10" fill="#000"/>
<line x1="188.06" y1="223.50" x2="188.06" y2="225.40" stroke="#000" stroke-width="0.6"/>
<line x1="186.56" y1="225.40" x2="189.56" y2="225.40" stroke="#000" stroke-width="0.6"/>
<rect x="184.81" y="222.30" width="6.50" height="1.20" fill="#000"/>
<text x="139.30" y="265.80" font-size="6.25" textLength="37.50" lengthAdjust="spacingAndGlyphs" class="yl"><tspan font-weight="bold">UFH</tspan><tspan font-weight="bold"> (μg/mL)</tspan></text>
<text x="108.20" y="224.50" font-size="5.69" text-anchor="middle" transform="rotate(-90 108.20 224.50)" textLength="62.00" lengthAdjust="spacingAndGlyphs" xml:space="preserve" class="yl">change in lag time  (sec)</text>
<text x="233.40" y="194.90" font-size="7.9" font-weight="bold"><tspan font-style="italic">S. gordonii</tspan> DL1</text>
<line x1="225.90" y1="200.30" x2="225.90" y2="248.40" stroke="#000" stroke-width="0.7"/>
<line x1="224.30" y1="200.30" x2="225.90" y2="200.30" stroke="#000" stroke-width="0.6"/>
<text x="224.30" y="201.85" font-size="4.5" text-anchor="end" font-weight="normal" font-style="normal" fill="#000">150</text>
<line x1="224.30" y1="207.17" x2="225.90" y2="207.17" stroke="#000" stroke-width="0.6"/>
<text x="224.30" y="208.72" font-size="4.5" text-anchor="end" font-weight="normal" font-style="normal" fill="#000">100</text>
<line x1="224.30" y1="214.04" x2="225.90" y2="214.04" stroke="#000" stroke-width="0.6"/>
<text x="224.30" y="215.59" font-size="4.5" text-anchor="end" font-weight="normal" font-style="normal" fill="#000">50</text>
<line x1="224.30" y1="220.91" x2="225.90" y2="220.91" stroke="#000" stroke-width="0.6"/>
<text x="224.30" y="222.46" font-size="4.5" text-anchor="end" font-weight="normal" font-style="normal" fill="#000">0</text>
<line x1="224.30" y1="227.79" x2="225.90" y2="227.79" stroke="#000" stroke-width="0.6"/>
<text x="224.30" y="229.34" font-size="4.5" text-anchor="end" font-weight="normal" font-style="normal" fill="#000">-50</text>
<line x1="224.30" y1="234.66" x2="225.90" y2="234.66" stroke="#000" stroke-width="0.6"/>
<text x="224.30" y="236.21" font-size="4.5" text-anchor="end" font-weight="normal" font-style="normal" fill="#000">-100</text>
<line x1="224.30" y1="241.53" x2="225.90" y2="241.53" stroke="#000" stroke-width="0.6"/>
<text x="224.30" y="243.08" font-size="4.5" text-anchor="end" font-weight="normal" font-style="normal" fill="#000">-150</text>
<line x1="224.30" y1="248.40" x2="225.90" y2="248.40" stroke="#000" stroke-width="0.6"/>
<text x="224.30" y="249.95" font-size="4.5" text-anchor="end" font-weight="normal" font-style="normal" fill="#000">-200</text>
<line x1="225.90" y1="248.40" x2="295.80" y2="248.40" stroke="#000" stroke-width="0.7"/>
<line x1="225.90" y1="220.91" x2="295.80" y2="220.91" stroke="#000" stroke-width="0.7"/>
<line x1="232.05" y1="248.40" x2="232.05" y2="249.60" stroke="#000" stroke-width="0.5"/>
<text x="232.05" y="253.50" font-size="4.5" text-anchor="middle" font-weight="normal" font-style="normal" fill="#000">0</text>
<line x1="243.75" y1="248.40" x2="243.75" y2="249.60" stroke="#000" stroke-width="0.5"/>
<text x="243.75" y="253.50" font-size="4.5" text-anchor="middle" font-weight="normal" font-style="normal" fill="#000">0.06</text>
<line x1="255.45" y1="248.40" x2="255.45" y2="249.60" stroke="#000" stroke-width="0.5"/>
<text x="255.45" y="253.50" font-size="4.5" text-anchor="middle" font-weight="normal" font-style="normal" fill="#000">0.6</text>
<line x1="267.15" y1="248.40" x2="267.15" y2="249.60" stroke="#000" stroke-width="0.5"/>
<text x="267.15" y="253.50" font-size="4.5" text-anchor="middle" font-weight="normal" font-style="normal" fill="#000">6</text>
<line x1="278.85" y1="248.40" x2="278.85" y2="249.60" stroke="#000" stroke-width="0.5"/>
<text x="278.85" y="253.50" font-size="4.5" text-anchor="middle" font-weight="normal" font-style="normal" fill="#000">60</text>
<line x1="290.55" y1="248.40" x2="290.55" y2="249.60" stroke="#000" stroke-width="0.5"/>
<text x="290.55" y="253.50" font-size="4.5" text-anchor="middle" font-weight="normal" font-style="normal" fill="#000">600</text>
<line x1="243.75" y1="222.20" x2="243.75" y2="223.70" stroke="#000" stroke-width="0.6"/>
<line x1="242.25" y1="223.70" x2="245.25" y2="223.70" stroke="#000" stroke-width="0.6"/>
<rect x="239.95" y="220.91" width="7.60" height="1.29" fill="#000"/>
<line x1="255.45" y1="227.40" x2="255.45" y2="230.50" stroke="#000" stroke-width="0.6"/>
<line x1="253.95" y1="230.50" x2="256.95" y2="230.50" stroke="#000" stroke-width="0.6"/>
<rect x="251.65" y="220.91" width="7.60" height="6.49" fill="#000"/>
<line x1="267.15" y1="235.80" x2="267.15" y2="238.10" stroke="#000" stroke-width="0.6"/>
<line x1="265.65" y1="238.10" x2="268.65" y2="238.10" stroke="#000" stroke-width="0.6"/>
<rect x="263.35" y="220.91" width="7.60" height="14.89" fill="#000"/>
<text x="267.15" y="244.10" font-size="5" text-anchor="middle" font-weight="normal" font-style="normal" fill="#000">*</text>
<line x1="278.85" y1="235.80" x2="278.85" y2="238.10" stroke="#000" stroke-width="0.6"/>
<line x1="277.35" y1="238.10" x2="280.35" y2="238.10" stroke="#000" stroke-width="0.6"/>
<rect x="275.05" y="220.91" width="7.60" height="14.89" fill="#000"/>
<text x="278.85" y="244.10" font-size="5" text-anchor="middle" font-weight="normal" font-style="normal" fill="#000">*</text>
<line x1="290.55" y1="212.30" x2="290.55" y2="207.40" stroke="#000" stroke-width="0.6"/>
<line x1="289.05" y1="207.40" x2="292.05" y2="207.40" stroke="#000" stroke-width="0.6"/>
<rect x="286.75" y="212.30" width="7.60" height="8.61" fill="#000"/>
<text x="243.00" y="264.60" font-size="6.26" textLength="36.30" lengthAdjust="spacingAndGlyphs" class="yl"><tspan font-weight="bold">UFH</tspan><tspan font-weight="normal"> (μg/mL)</tspan></text>
<text x="212.40" y="223.50" font-size="5.59" text-anchor="middle" transform="rotate(-90 212.40 223.50)" textLength="60.90" lengthAdjust="spacingAndGlyphs" xml:space="preserve" class="yl">change in lag time  (sec)</text>
<text x="345.60" y="194.90" font-size="7.9" font-weight="bold"><tspan font-style="italic">S. oralis</tspan> CR834</text>
<line x1="336.50" y1="200.60" x2="336.50" y2="248.80" stroke="#000" stroke-width="0.7"/>
<line x1="334.90" y1="200.60" x2="336.50" y2="200.60" stroke="#000" stroke-width="0.6"/>
<text x="334.90" y="202.15" font-size="4.5" text-anchor="end" font-weight="normal" font-style="normal" fill="#000">150</text>
<line x1="334.90" y1="207.49" x2="336.50" y2="207.49" stroke="#000" stroke-width="0.6"/>
<text x="334.90" y="209.04" font-size="4.5" text-anchor="end" font-weight="normal" font-style="normal" fill="#000">100</text>
<line x1="334.90" y1="214.37" x2="336.50" y2="214.37" stroke="#000" stroke-width="0.6"/>
<text x="334.90" y="215.92" font-size="4.5" text-anchor="end" font-weight="normal" font-style="normal" fill="#000">50</text>
<line x1="334.90" y1="221.26" x2="336.50" y2="221.26" stroke="#000" stroke-width="0.6"/>
<text x="334.90" y="222.81" font-size="4.5" text-anchor="end" font-weight="normal" font-style="normal" fill="#000">0</text>
<line x1="334.90" y1="228.14" x2="336.50" y2="228.14" stroke="#000" stroke-width="0.6"/>
<text x="334.90" y="229.69" font-size="4.5" text-anchor="end" font-weight="normal" font-style="normal" fill="#000">-50</text>
<line x1="334.90" y1="235.03" x2="336.50" y2="235.03" stroke="#000" stroke-width="0.6"/>
<text x="334.90" y="236.58" font-size="4.5" text-anchor="end" font-weight="normal" font-style="normal" fill="#000">-100</text>
<line x1="334.90" y1="241.91" x2="336.50" y2="241.91" stroke="#000" stroke-width="0.6"/>
<text x="334.90" y="243.46" font-size="4.5" text-anchor="end" font-weight="normal" font-style="normal" fill="#000">-150</text>
<line x1="334.90" y1="248.80" x2="336.50" y2="248.80" stroke="#000" stroke-width="0.6"/>
<text x="334.90" y="250.35" font-size="4.5" text-anchor="end" font-weight="normal" font-style="normal" fill="#000">-200</text>
<line x1="336.50" y1="248.80" x2="406.10" y2="248.80" stroke="#000" stroke-width="0.7"/>
<line x1="336.50" y1="221.26" x2="406.10" y2="221.26" stroke="#000" stroke-width="0.7"/>
<line x1="341.90" y1="248.80" x2="341.90" y2="250.00" stroke="#000" stroke-width="0.5"/>
<text x="341.90" y="253.50" font-size="4.5" text-anchor="middle" font-weight="normal" font-style="normal" fill="#000">0</text>
<line x1="351.83" y1="248.80" x2="351.83" y2="250.00" stroke="#000" stroke-width="0.5"/>
<text x="351.83" y="253.50" font-size="4.5" text-anchor="middle" font-weight="normal" font-style="normal" fill="#000">0.06</text>
<line x1="361.76" y1="248.80" x2="361.76" y2="250.00" stroke="#000" stroke-width="0.5"/>
<text x="361.76" y="253.50" font-size="4.5" text-anchor="middle" font-weight="normal" font-style="normal" fill="#000">0.6</text>
<line x1="371.69" y1="248.80" x2="371.69" y2="250.00" stroke="#000" stroke-width="0.5"/>
<text x="371.69" y="253.50" font-size="4.5" text-anchor="middle" font-weight="normal" font-style="normal" fill="#000">6</text>
<line x1="381.62" y1="248.80" x2="381.62" y2="250.00" stroke="#000" stroke-width="0.5"/>
<text x="381.62" y="253.50" font-size="4.5" text-anchor="middle" font-weight="normal" font-style="normal" fill="#000">60</text>
<line x1="391.55" y1="248.80" x2="391.55" y2="250.00" stroke="#000" stroke-width="0.5"/>
<text x="391.55" y="253.50" font-size="4.5" text-anchor="middle" font-weight="normal" font-style="normal" fill="#000">600</text>
<line x1="401.48" y1="248.80" x2="401.48" y2="250.00" stroke="#000" stroke-width="0.5"/>
<text x="401.48" y="253.50" font-size="4.5" text-anchor="middle" font-weight="normal" font-style="normal" fill="#000">3000</text>
<line x1="351.83" y1="222.40" x2="351.83" y2="225.30" stroke="#000" stroke-width="0.6"/>
<line x1="350.33" y1="225.30" x2="353.33" y2="225.30" stroke="#000" stroke-width="0.6"/>
<rect x="348.48" y="221.26" width="6.70" height="1.14" fill="#000"/>
<line x1="361.76" y1="230.60" x2="361.76" y2="235.30" stroke="#000" stroke-width="0.6"/>
<line x1="360.26" y1="235.30" x2="363.26" y2="235.30" stroke="#000" stroke-width="0.6"/>
<rect x="358.41" y="221.26" width="6.70" height="9.34" fill="#000"/>
<line x1="371.69" y1="232.50" x2="371.69" y2="237.30" stroke="#000" stroke-width="0.6"/>
<line x1="370.19" y1="237.30" x2="373.19" y2="237.30" stroke="#000" stroke-width="0.6"/>
<rect x="368.34" y="221.26" width="6.70" height="11.24" fill="#000"/>
<line x1="381.62" y1="234.70" x2="381.62" y2="240.30" stroke="#000" stroke-width="0.6"/>
<line x1="380.12" y1="240.30" x2="383.12" y2="240.30" stroke="#000" stroke-width="0.6"/>
<rect x="378.27" y="221.26" width="6.70" height="13.44" fill="#000"/>
<line x1="391.55" y1="231.10" x2="391.55" y2="235.30" stroke="#000" stroke-width="0.6"/>
<line x1="390.05" y1="235.30" x2="393.05" y2="235.30" stroke="#000" stroke-width="0.6"/>
<rect x="388.20" y="221.26" width="6.70" height="9.84" fill="#000"/>
<line x1="401.48" y1="229.10" x2="401.48" y2="235.30" stroke="#000" stroke-width="0.6"/>
<line x1="399.98" y1="235.30" x2="402.98" y2="235.30" stroke="#000" stroke-width="0.6"/>
<rect x="398.13" y="221.26" width="6.70" height="7.84" fill="#000"/>
<text x="353.20" y="263.80" font-size="6.13" textLength="36.80" lengthAdjust="spacingAndGlyphs" class="yl"><tspan font-weight="bold">UFH</tspan><tspan font-weight="bold"> (μg/mL)</tspan></text>
<text x="323.30" y="223.50" font-size="5.59" text-anchor="middle" transform="rotate(-90 323.30 223.50)" textLength="60.90" lengthAdjust="spacingAndGlyphs" xml:space="preserve" class="yl">change in lag time  (sec)</text>
<text x="435.60" y="194.00" font-size="7.9" font-weight="bold"><tspan font-style="italic">S. pneumoniae</tspan> IO1196</text>
<line x1="441.50" y1="198.90" x2="441.50" y2="249.00" stroke="#000" stroke-width="0.7"/>
<line x1="439.90" y1="198.90" x2="441.50" y2="198.90" stroke="#000" stroke-width="0.6"/>
<text x="439.90" y="200.45" font-size="4.5" text-anchor="end" font-weight="normal" font-style="normal" fill="#000">50</text>
<line x1="439.90" y1="205.71" x2="441.50" y2="205.71" stroke="#000" stroke-width="0.6"/>
<text x="439.90" y="207.26" font-size="4.5" text-anchor="end" font-weight="normal" font-style="normal" fill="#000">0</text>
<line x1="439.90" y1="212.53" x2="441.50" y2="212.53" stroke="#000" stroke-width="0.6"/>
<text x="439.90" y="214.08" font-size="4.5" text-anchor="end" font-weight="normal" font-style="normal" fill="#000">-50</text>
<line x1="439.90" y1="219.34" x2="441.50" y2="219.34" stroke="#000" stroke-width="0.6"/>
<text x="439.90" y="220.89" font-size="4.5" text-anchor="end" font-weight="normal" font-style="normal" fill="#000">-100</text>
<line x1="439.90" y1="226.16" x2="441.50" y2="226.16" stroke="#000" stroke-width="0.6"/>
<text x="439.90" y="227.71" font-size="4.5" text-anchor="end" font-weight="normal" font-style="normal" fill="#000">-150</text>
<line x1="439.90" y1="232.97" x2="441.50" y2="232.97" stroke="#000" stroke-width="0.6"/>
<text x="439.90" y="234.52" font-size="4.5" text-anchor="end" font-weight="normal" font-style="normal" fill="#000">-200</text>
<line x1="439.90" y1="239.79" x2="441.50" y2="239.79" stroke="#000" stroke-width="0.6"/>
<text x="439.90" y="241.34" font-size="4.5" text-anchor="end" font-weight="normal" font-style="normal" fill="#000">-250</text>
<line x1="439.90" y1="246.60" x2="441.50" y2="246.60" stroke="#000" stroke-width="0.6"/>
<text x="439.90" y="248.15" font-size="4.5" text-anchor="end" font-weight="normal" font-style="normal" fill="#000">-300</text>
<line x1="441.50" y1="249.00" x2="512.30" y2="249.00" stroke="#000" stroke-width="0.7"/>
<line x1="441.50" y1="205.71" x2="512.30" y2="205.71" stroke="#000" stroke-width="0.7"/>
<line x1="447.95" y1="249.00" x2="447.95" y2="250.20" stroke="#000" stroke-width="0.5"/>
<text x="447.95" y="255.00" font-size="4.5" text-anchor="middle" font-weight="normal" font-style="normal" fill="#000">0</text>
<line x1="459.75" y1="249.00" x2="459.75" y2="250.20" stroke="#000" stroke-width="0.5"/>
<text x="459.75" y="255.00" font-size="4.5" text-anchor="middle" font-weight="normal" font-style="normal" fill="#000">0.06</text>
<line x1="471.55" y1="249.00" x2="471.55" y2="250.20" stroke="#000" stroke-width="0.5"/>
<text x="471.55" y="255.00" font-size="4.5" text-anchor="middle" font-weight="normal" font-style="normal" fill="#000">0.6</text>
<line x1="483.35" y1="249.00" x2="483.35" y2="250.20" stroke="#000" stroke-width="0.5"/>
<text x="483.35" y="255.00" font-size="4.5" text-anchor="middle" font-weight="normal" font-style="normal" fill="#000">6</text>
<line x1="495.15" y1="249.00" x2="495.15" y2="250.20" stroke="#000" stroke-width="0.5"/>
<text x="495.15" y="255.00" font-size="4.5" text-anchor="middle" font-weight="normal" font-style="normal" fill="#000">60</text>
<line x1="506.95" y1="249.00" x2="506.95" y2="250.20" stroke="#000" stroke-width="0.5"/>
<text x="506.95" y="255.00" font-size="4.5" text-anchor="middle" font-weight="normal" font-style="normal" fill="#000">600</text>
<line x1="459.75" y1="201.80" x2="459.75" y2="198.90" stroke="#000" stroke-width="0.6"/>
<line x1="458.25" y1="198.90" x2="461.25" y2="198.90" stroke="#000" stroke-width="0.6"/>
<rect x="455.90" y="201.80" width="7.70" height="3.91" fill="#000"/>
<line x1="471.55" y1="219.30" x2="471.55" y2="223.70" stroke="#000" stroke-width="0.6"/>
<line x1="470.05" y1="223.70" x2="473.05" y2="223.70" stroke="#000" stroke-width="0.6"/>
<rect x="467.70" y="205.71" width="7.70" height="13.59" fill="#000"/>
<line x1="483.35" y1="228.00" x2="483.35" y2="232.30" stroke="#000" stroke-width="0.6"/>
<line x1="481.85" y1="232.30" x2="484.85" y2="232.30" stroke="#000" stroke-width="0.6"/>
<rect x="479.50" y="205.71" width="7.70" height="22.29" fill="#000"/>
<text x="483.35" y="237.40" font-size="5" text-anchor="middle" font-weight="normal" font-style="normal" fill="#000">*</text>
<line x1="495.15" y1="238.60" x2="495.15" y2="243.40" stroke="#000" stroke-width="0.6"/>
<line x1="493.65" y1="243.40" x2="496.65" y2="243.40" stroke="#000" stroke-width="0.6"/>
<rect x="491.30" y="205.71" width="7.70" height="32.89" fill="#000"/>
<text x="495.15" y="248.70" font-size="5" text-anchor="middle" font-weight="normal" font-style="normal" fill="#000">*</text>
<line x1="506.95" y1="236.00" x2="506.95" y2="242.40" stroke="#000" stroke-width="0.6"/>
<line x1="505.45" y1="242.40" x2="508.45" y2="242.40" stroke="#000" stroke-width="0.6"/>
<rect x="503.10" y="205.71" width="7.70" height="30.29" fill="#000"/>
<text x="506.95" y="247.00" font-size="5" text-anchor="middle" font-weight="normal" font-style="normal" fill="#000">*</text>
<text x="459.30" y="265.60" font-size="6.14" textLength="35.60" lengthAdjust="spacingAndGlyphs" class="yl"><tspan font-weight="bold">UFH</tspan><tspan font-weight="normal"> (μg/mL)</tspan></text>
<text x="428.00" y="222.60" font-size="5.63" text-anchor="middle" transform="rotate(-90 428.00 222.60)" textLength="61.40" lengthAdjust="spacingAndGlyphs" xml:space="preserve" class="yl">change in lag time  (sec)</text>
<text x="39.20" y="291.20" font-size="6.6" font-weight="bold" textLength="63.80" lengthAdjust="spacingAndGlyphs"><tspan font-style="italic">S. sanguinis</tspan> 133-79</text>
<line x1="39.10" y1="301.10" x2="39.10" y2="366.20" stroke="#000" stroke-width="1.0"/>
<line x1="35.70" y1="301.50" x2="39.10" y2="301.50" stroke="#000" stroke-width="1.0"/>
<line x1="35.70" y1="307.93" x2="39.10" y2="307.93" stroke="#000" stroke-width="1.0"/>
<line x1="35.70" y1="314.36" x2="39.10" y2="314.36" stroke="#000" stroke-width="1.0"/>
<line x1="35.70" y1="320.79" x2="39.10" y2="320.79" stroke="#000" stroke-width="1.0"/>
<line x1="35.70" y1="327.22" x2="39.10" y2="327.22" stroke="#000" stroke-width="1.0"/>
<line x1="35.70" y1="333.65" x2="39.10" y2="333.65" stroke="#000" stroke-width="1.0"/>
<line x1="35.70" y1="340.08" x2="39.10" y2="340.08" stroke="#000" stroke-width="1.0"/>
<line x1="35.70" y1="346.51" x2="39.10" y2="346.51" stroke="#000" stroke-width="1.0"/>
<line x1="35.70" y1="352.94" x2="39.10" y2="352.94" stroke="#000" stroke-width="1.0"/>
<line x1="35.70" y1="359.37" x2="39.10" y2="359.37" stroke="#000" stroke-width="1.0"/>
<line x1="35.70" y1="365.80" x2="39.10" y2="365.80" stroke="#000" stroke-width="1.0"/>
<text x="33.20" y="302.70" font-size="3.7" text-anchor="end" font-weight="normal" font-style="normal" fill="#000">0%</text>
<text x="33.20" y="367.70" font-size="3.8" text-anchor="end" font-weight="normal" font-style="normal" fill="#000">100%</text>
<text x="30.6" y="330.4" font-size="5.3" text-anchor="middle" transform="rotate(-90 30.6 330.4)" textLength="43.2" lengthAdjust="spacingAndGlyphs">Light transmission</text>
<line x1="43.50" y1="294.60" x2="43.50" y2="297.60" stroke="#000" stroke-width="0.8"/>
<path d="M43.50 296.00 L45.00 297.70 L43.50 299.60 L42.00 297.70 Z" fill="#000"/>
<path d="M43.30 300.90 C43.65 301.35 44.07 303.53 45.40 303.60 C46.73 303.67 48.87 301.85 51.30 301.30 C53.73 300.75 56.68 300.58 60.00 300.30 C63.32 300.02 67.20 299.78 71.20 299.60 C75.20 299.42 79.72 299.30 84.00 299.20 C88.28 299.10 94.75 299.03 96.90 299.00" stroke="#000" stroke-width="1.7" fill="none" stroke-linejoin="round" stroke-linecap="round"/>
<path d="M43.30 300.90 C43.62 301.83 44.57 304.58 45.20 306.50 C45.83 308.42 46.23 310.45 47.10 312.40 C47.97 314.35 49.28 316.82 50.40 318.20 C51.52 319.58 52.97 319.65 53.80 320.70 C54.63 321.75 54.93 322.57 55.40 324.50 C55.87 326.43 56.18 329.75 56.60 332.30 C57.02 334.85 57.40 337.58 57.90 339.80 C58.40 342.02 58.77 343.93 59.60 345.60 C60.43 347.27 60.97 348.67 62.90 349.80 C64.83 350.93 67.05 351.83 71.20 352.40 C75.35 352.97 83.52 353.00 87.80 353.20 C92.08 353.40 95.38 353.53 96.90 353.60" stroke="#000" stroke-width="1.7" fill="none" stroke-linejoin="round" stroke-linecap="round"/>
<text x="80.60" y="310.60" font-size="6.6" textLength="12.00" lengthAdjust="spacingAndGlyphs">GPS</text>
<text x="66.00" y="362.20" font-size="6.6" textLength="21.40" lengthAdjust="spacingAndGlyphs">Control</text>
<rect x="45.00" y="365.20" width="4.40" height="1.60" fill="#000"/>
<text x="42.20" y="373.20" font-size="5.0" textLength="12.40" lengthAdjust="spacingAndGlyphs">1 min</text>
<text x="124.80" y="291.30" font-size="6.6" font-weight="bold" textLength="62.70" lengthAdjust="spacingAndGlyphs"><tspan font-style="italic">S. aureus</tspan> Newman</text>
<line x1="114.80" y1="301.20" x2="114.80" y2="366.20" stroke="#000" stroke-width="1.0"/>
<line x1="111.40" y1="301.60" x2="114.80" y2="301.60" stroke="#000" stroke-width="1.0"/>
<line x1="111.40" y1="308.02" x2="114.80" y2="308.02" stroke="#000" stroke-width="1.0"/>
<line x1="111.40" y1="314.44" x2="114.80" y2="314.44" stroke="#000" stroke-width="1.0"/>
<line x1="111.40" y1="320.86" x2="114.80" y2="320.86" stroke="#000" stroke-width="1.0"/>
<line x1="111.40" y1="327.28" x2="114.80" y2="327.28" stroke="#000" stroke-width="1.0"/>
<line x1="111.40" y1="333.70" x2="114.80" y2="333.70" stroke="#000" stroke-width="1.0"/>
<line x1="111.40" y1="340.12" x2="114.80" y2="340.12" stroke="#000" stroke-width="1.0"/>
<line x1="111.40" y1="346.54" x2="114.80" y2="346.54" stroke="#000" stroke-width="1.0"/>
<line x1="111.40" y1="352.96" x2="114.80" y2="352.96" stroke="#000" stroke-width="1.0"/>
<line x1="111.40" y1="359.38" x2="114.80" y2="359.38" stroke="#000" stroke-width="1.0"/>
<line x1="111.40" y1="365.80" x2="114.80" y2="365.80" stroke="#000" stroke-width="1.0"/>
<path d="M119.60 302.10 C120.33 301.88 122.27 301.12 124.00 300.80 C125.73 300.48 125.67 300.37 130.00 300.20 C134.33 300.03 142.87 299.90 150.00 299.80 C157.13 299.70 169.00 299.63 172.80 299.60" stroke="#000" stroke-width="1.7" fill="none" stroke-linejoin="round" stroke-linecap="round"/>
<path d="M119.60 302.10 C120.33 301.88 122.27 301.08 124.00 300.80 C125.73 300.52 126.88 300.43 130.00 300.40 C133.12 300.37 140.12 300.08 142.70 300.60 C145.28 301.12 144.70 302.27 145.50 303.50 C146.30 304.73 146.92 306.08 147.50 308.00 C148.08 309.92 148.50 312.75 149.00 315.00 C149.50 317.25 149.92 319.58 150.50 321.50 C151.08 323.42 151.70 325.08 152.50 326.50 C153.30 327.92 154.22 329.12 155.30 330.00 C156.38 330.88 157.72 331.35 159.00 331.80 C160.28 332.25 160.70 332.45 163.00 332.70 C165.30 332.95 171.17 333.20 172.80 333.30" stroke="#000" stroke-width="1.7" fill="none" stroke-linejoin="round" stroke-linecap="round"/>
<text x="165.30" y="309.60" font-size="6.6" textLength="12.60" lengthAdjust="spacingAndGlyphs">GPS</text>
<text x="148.20" y="344.50" font-size="6.6" textLength="21.60" lengthAdjust="spacingAndGlyphs">Control</text>
<rect x="120.60" y="365.20" width="4.00" height="1.60" fill="#000"/>
<text x="208.10" y="291.30" font-size="6.6" font-weight="bold" textLength="44.20" lengthAdjust="spacingAndGlyphs"><tspan font-style="italic">S. gordonii</tspan> DL1</text>
<line x1="197.40" y1="301.10" x2="197.40" y2="366.20" stroke="#000" stroke-width="1.0"/>
<line x1="194.00" y1="301.50" x2="197.40" y2="301.50" stroke="#000" stroke-width="1.0"/>
<line x1="194.00" y1="307.93" x2="197.40" y2="307.93" stroke="#000" stroke-width="1.0"/>
<line x1="194.00" y1="314.36" x2="197.40" y2="314.36" stroke="#000" stroke-width="1.0"/>
<line x1="194.00" y1="320.79" x2="197.40" y2="320.79" stroke="#000" stroke-width="1.0"/>
<line x1="194.00" y1="327.22" x2="197.40" y2="327.22" stroke="#000" stroke-width="1.0"/>
<line x1="194.00" y1="333.65" x2="197.40" y2="333.65" stroke="#000" stroke-width="1.0"/>
<line x1="194.00" y1="340.08" x2="197.40" y2="340.08" stroke="#000" stroke-width="1.0"/>
<line x1="194.00" y1="346.51" x2="197.40" y2="346.51" stroke="#000" stroke-width="1.0"/>
<line x1="194.00" y1="352.94" x2="197.40" y2="352.94" stroke="#000" stroke-width="1.0"/>
<line x1="194.00" y1="359.37" x2="197.40" y2="359.37" stroke="#000" stroke-width="1.0"/>
<line x1="194.00" y1="365.80" x2="197.40" y2="365.80" stroke="#000" stroke-width="1.0"/>
<path d="M201.30 302.10 C203.58 302.15 210.22 302.30 215.00 302.40 C219.78 302.50 225.00 302.62 230.00 302.70 C235.00 302.78 240.02 302.83 245.00 302.90 C249.98 302.97 257.42 303.07 259.90 303.10" stroke="#000" stroke-width="1.7" fill="none" stroke-linejoin="round" stroke-linecap="round"/>
<path d="M201.30 302.10 C203.58 302.13 211.43 302.13 215.00 302.30 C218.57 302.47 220.87 302.65 222.70 303.10 C224.53 303.55 225.03 304.10 226.00 305.00 C226.97 305.90 227.78 307.17 228.50 308.50 C229.22 309.83 229.72 311.17 230.30 313.00 C230.88 314.83 231.38 317.25 232.00 319.50 C232.62 321.75 233.25 324.25 234.00 326.50 C234.75 328.75 235.45 330.92 236.50 333.00 C237.55 335.08 239.05 337.50 240.30 339.00 C241.55 340.50 242.72 341.25 244.00 342.00 C245.28 342.75 246.33 343.10 248.00 343.50 C249.67 343.90 252.02 344.18 254.00 344.40 C255.98 344.62 258.92 344.73 259.90 344.80" stroke="#000" stroke-width="1.7" fill="none" stroke-linejoin="round" stroke-linecap="round"/>
<text x="245.30" y="312.70" font-size="6.6" textLength="12.10" lengthAdjust="spacingAndGlyphs">GPS</text>
<text x="232.70" y="356.30" font-size="6.6" textLength="21.40" lengthAdjust="spacingAndGlyphs">Control</text>
<rect x="203.10" y="365.20" width="4.50" height="1.60" fill="#000"/>
<text x="295.10" y="292.10" font-size="6.6" font-weight="bold" textLength="49.00" lengthAdjust="spacingAndGlyphs"><tspan font-style="italic">S. oralis</tspan> CR834</text>
<line x1="277.20" y1="301.40" x2="277.20" y2="366.20" stroke="#000" stroke-width="1.0"/>
<line x1="273.80" y1="301.80" x2="277.20" y2="301.80" stroke="#000" stroke-width="1.0"/>
<line x1="273.80" y1="308.20" x2="277.20" y2="308.20" stroke="#000" stroke-width="1.0"/>
<line x1="273.80" y1="314.60" x2="277.20" y2="314.60" stroke="#000" stroke-width="1.0"/>
<line x1="273.80" y1="321.00" x2="277.20" y2="321.00" stroke="#000" stroke-width="1.0"/>
<line x1="273.80" y1="327.40" x2="277.20" y2="327.40" stroke="#000" stroke-width="1.0"/>
<line x1="273.80" y1="333.80" x2="277.20" y2="333.80" stroke="#000" stroke-width="1.0"/>
<line x1="273.80" y1="340.20" x2="277.20" y2="340.20" stroke="#000" stroke-width="1.0"/>
<line x1="273.80" y1="346.60" x2="277.20" y2="346.60" stroke="#000" stroke-width="1.0"/>
<line x1="273.80" y1="353.00" x2="277.20" y2="353.00" stroke="#000" stroke-width="1.0"/>
<line x1="273.80" y1="359.40" x2="277.20" y2="359.40" stroke="#000" stroke-width="1.0"/>
<line x1="273.80" y1="365.80" x2="277.20" y2="365.80" stroke="#000" stroke-width="1.0"/>
<line x1="280.40" y1="294.40" x2="280.40" y2="297.40" stroke="#000" stroke-width="0.8"/>
<path d="M280.40 295.80 L281.90 297.50 L280.40 299.40 L278.90 297.50 Z" fill="#000"/>
<path d="M281.20 300.80 C281.63 301.27 281.78 302.82 283.80 303.60 C285.82 304.38 290.27 304.88 293.30 305.50 C296.33 306.12 299.12 306.88 302.00 307.30 C304.88 307.72 306.77 307.88 310.60 308.00 C314.43 308.12 320.10 308.02 325.00 308.00 C329.90 307.98 334.03 307.95 340.00 307.90 C345.97 307.85 357.33 307.73 360.80 307.70" stroke="#000" stroke-width="1.7" fill="none" stroke-linejoin="round" stroke-linecap="round"/>
<path d="M281.20 300.80 C281.63 301.27 281.78 302.82 283.80 303.60 C285.82 304.38 290.27 304.88 293.30 305.50 C296.33 306.12 298.97 306.85 302.00 307.30 C305.03 307.75 308.05 307.27 311.50 308.20 C314.95 309.13 318.82 310.53 322.70 312.90 C326.58 315.27 330.47 319.23 334.80 322.40 C339.13 325.57 344.37 329.25 348.70 331.90 C353.03 334.55 358.78 337.23 360.80 338.30" stroke="#000" stroke-width="1.7" fill="none" stroke-linejoin="round" stroke-linecap="round"/>
<path d="M281.20 300.80 C281.63 301.27 281.78 302.82 283.80 303.60 C285.82 304.38 290.27 304.88 293.30 305.50 C296.33 306.12 300.13 306.85 302.00 307.30 C303.87 307.75 303.35 307.42 304.50 308.20 C305.65 308.98 307.73 310.20 308.90 312.00 C310.07 313.80 310.50 315.97 311.50 319.00 C312.50 322.03 313.75 326.90 314.90 330.20 C316.05 333.50 317.10 336.63 318.40 338.80 C319.70 340.97 320.53 341.75 322.70 343.20 C324.87 344.65 327.68 346.58 331.40 347.50 C335.12 348.42 340.10 348.42 345.00 348.70 C349.90 348.98 358.17 349.12 360.80 349.20" stroke="#000" stroke-width="1.7" fill="none" stroke-linejoin="round" stroke-linecap="round"/>
<text x="319.00" y="302.30" font-size="6.4" textLength="47.70" lengthAdjust="spacingAndGlyphs">GPS + mAb IV.3</text>
<text x="331.90" y="343.80" font-size="6.6" textLength="21.60" lengthAdjust="spacingAndGlyphs">Control</text>
<text x="334.00" y="358.40" font-size="6.6" textLength="11.40" lengthAdjust="spacingAndGlyphs">GPS</text>
<rect x="282.90" y="365.20" width="4.70" height="1.60" fill="#000"/>
<text x="374.50" y="291.30" font-size="6.6" font-weight="bold" textLength="75.40" lengthAdjust="spacingAndGlyphs"><tspan font-style="italic">S. pneumoniae</tspan> IO1196</text>
<line x1="379.40" y1="301.40" x2="379.40" y2="366.20" stroke="#000" stroke-width="1.0"/>
<line x1="376.00" y1="301.80" x2="379.40" y2="301.80" stroke="#000" stroke-width="1.0"/>
<line x1="376.00" y1="308.20" x2="379.40" y2="308.20" stroke="#000" stroke-width="1.0"/>
<line x1="376.00" y1="314.60" x2="379.40" y2="314.60" stroke="#000" stroke-width="1.0"/>
<line x1="376.00" y1="321.00" x2="379.40" y2="321.00" stroke="#000" stroke-width="1.0"/>
<line x1="376.00" y1="327.40" x2="379.40" y2="327.40" stroke="#000" stroke-width="1.0"/>
<line x1="376.00" y1="333.80" x2="379.40" y2="333.80" stroke="#000" stroke-width="1.0"/>
<line x1="376.00" y1="340.20" x2="379.40" y2="340.20" stroke="#000" stroke-width="1.0"/>
<line x1="376.00" y1="346.60" x2="379.40" y2="346.60" stroke="#000" stroke-width="1.0"/>
<line x1="376.00" y1="353.00" x2="379.40" y2="353.00" stroke="#000" stroke-width="1.0"/>
<line x1="376.00" y1="359.40" x2="379.40" y2="359.40" stroke="#000" stroke-width="1.0"/>
<line x1="376.00" y1="365.80" x2="379.40" y2="365.80" stroke="#000" stroke-width="1.0"/>
<path d="M382.70 302.60 C384.77 302.70 390.55 302.97 395.10 303.20 C399.65 303.43 405.02 303.73 410.00 304.00 C414.98 304.27 419.90 304.53 425.00 304.80 C430.10 305.07 438.00 305.47 440.60 305.60" stroke="#000" stroke-width="1.7" fill="none" stroke-linejoin="round" stroke-linecap="round"/>
<path d="M382.70 302.60 C383.92 302.67 388.20 302.80 390.00 303.00 C391.80 303.20 392.45 303.30 393.50 303.80 C394.55 304.30 395.48 305.17 396.30 306.00 C397.12 306.83 397.70 307.60 398.40 308.80 C399.10 310.00 399.83 311.67 400.50 313.20 C401.17 314.73 401.75 316.45 402.40 318.00 C403.05 319.55 403.72 321.13 404.40 322.50 C405.08 323.87 405.65 325.03 406.50 326.20 C407.35 327.37 408.42 328.53 409.50 329.50 C410.58 330.47 411.58 331.22 413.00 332.00 C414.42 332.78 416.43 333.63 418.00 334.20 C419.57 334.77 420.40 335.03 422.40 335.40 C424.40 335.77 427.08 336.13 430.00 336.40 C432.92 336.67 438.25 336.90 439.90 337.00" stroke="#000" stroke-width="1.7" fill="none" stroke-linejoin="round" stroke-linecap="round"/>
<text x="425.30" y="315.20" font-size="6.6" textLength="12.50" lengthAdjust="spacingAndGlyphs">GPS</text>
<text x="415.70" y="348.00" font-size="6.6" textLength="22.10" lengthAdjust="spacingAndGlyphs">Control</text>
<rect x="385.00" y="365.20" width="4.60" height="1.60" fill="#000"/>
<text x="475.20" y="291.30" font-size="6.6" font-weight="bold" textLength="13.80" lengthAdjust="spacingAndGlyphs">ADP</text>
<line x1="462.10" y1="301.10" x2="462.10" y2="366.00" stroke="#000" stroke-width="1.0"/>
<line x1="458.70" y1="301.50" x2="462.10" y2="301.50" stroke="#000" stroke-width="1.0"/>
<line x1="458.70" y1="307.91" x2="462.10" y2="307.91" stroke="#000" stroke-width="1.0"/>
<line x1="458.70" y1="314.32" x2="462.10" y2="314.32" stroke="#000" stroke-width="1.0"/>
<line x1="458.70" y1="320.73" x2="462.10" y2="320.73" stroke="#000" stroke-width="1.0"/>
<line x1="458.70" y1="327.14" x2="462.10" y2="327.14" stroke="#000" stroke-width="1.0"/>
<line x1="458.70" y1="333.55" x2="462.10" y2="333.55" stroke="#000" stroke-width="1.0"/>
<line x1="458.70" y1="339.96" x2="462.10" y2="339.96" stroke="#000" stroke-width="1.0"/>
<line x1="458.70" y1="346.37" x2="462.10" y2="346.37" stroke="#000" stroke-width="1.0"/>
<line x1="458.70" y1="352.78" x2="462.10" y2="352.78" stroke="#000" stroke-width="1.0"/>
<line x1="458.70" y1="359.19" x2="462.10" y2="359.19" stroke="#000" stroke-width="1.0"/>
<line x1="458.70" y1="365.60" x2="462.10" y2="365.60" stroke="#000" stroke-width="1.0"/>
<path d="M467.10 309.50 C467.25 310.50 467.55 313.33 468.00 315.50 C468.45 317.67 469.02 320.17 469.80 322.50 C470.58 324.83 471.75 327.48 472.70 329.50 C473.65 331.52 474.43 333.03 475.50 334.60 C476.57 336.17 477.70 337.85 479.10 338.90 C480.50 339.95 482.03 340.62 483.90 340.90 C485.77 341.18 488.28 340.80 490.30 340.60 C492.32 340.40 493.98 340.02 496.00 339.70 C498.02 339.38 501.33 338.87 502.40 338.70" stroke="#000" stroke-width="1.7" fill="none" stroke-linejoin="round" stroke-linecap="round"/>
<path d="M466.20 299.80 C466.43 301.83 467.13 308.13 467.60 312.00 C468.07 315.87 468.55 319.92 469.00 323.00 C469.45 326.08 469.92 328.58 470.30 330.50 C470.68 332.42 471.13 333.83 471.30 334.50" stroke="#000" stroke-width="0.6" fill="none" stroke-linejoin="round" stroke-linecap="round"/>
<path d="M470.60 332.50 C470.95 333.47 471.68 336.42 472.70 338.30 C473.72 340.18 474.83 342.47 476.70 343.80 C478.57 345.13 481.68 345.75 483.90 346.30 C486.12 346.85 486.92 346.88 490.00 347.10 C493.08 347.32 500.33 347.52 502.40 347.60" stroke="#000" stroke-width="1.7" fill="none" stroke-linejoin="round" stroke-linecap="round"/>
<text x="500.30" y="336.60" font-size="6.6" textLength="11.80" lengthAdjust="spacingAndGlyphs">GPS</text>
<text x="487.70" y="358.10" font-size="6.6" textLength="22.10" lengthAdjust="spacingAndGlyphs">Control</text>
<rect x="468.10" y="365.20" width="4.60" height="1.60" fill="#000"/>
</svg>
</body></html>
